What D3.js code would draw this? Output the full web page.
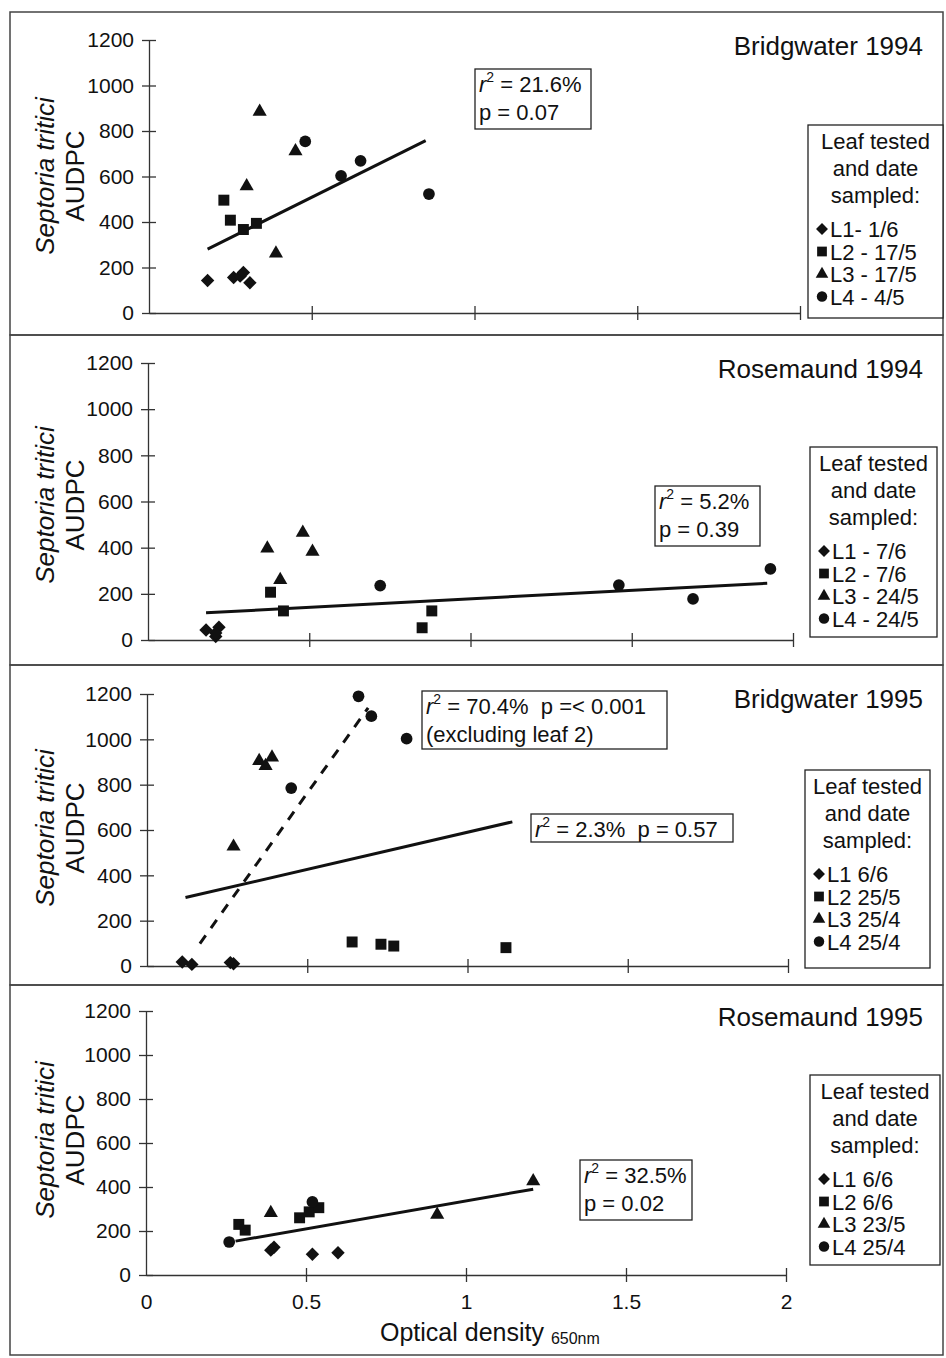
<!DOCTYPE html>
<html>
<head>
<meta charset="utf-8">
<script src="https://cdn.jsdelivr.net/npm/d3@7"></script>
<style>
  body { margin: 0; background: #fff; }
  text { font-family: "Liberation Sans", Arial, sans-serif; fill: #111; }
</style>
</head>
<body>
<script>
// tick values shared by all four panels
const yTicks = [0, 200, 400, 600, 800, 1000, 1200];
const xTicks = [0, 0.5, 1, 1.5, 2];
const xTickLabels = ["0", "0.5", "1", "1.5", "2"];

const siteNames = ["Bridgwater 1994", "Rosemaund 1994", "Bridgwater 1995", "Rosemaund 1995"];
const leafShapes = ["diamond", "square", "triangle", "circle"];

const legendB94 = ["L1- 1/6", "L2 - 17/5", "L3 - 17/5", "L4 - 4/5"];
const legendR94 = ["L1 - 7/6", "L2 - 7/6", "L3 - 24/5", "L4 - 24/5"];
const legendB95 = ["L1 6/6", "L2 25/5", "L3 25/4", "L4 25/4"];
const legendR95 = ["L1 6/6", "L2 6/6", "L3 23/5", "L4 25/4"];

// points: leaf number, optical density, AUDPC
const pointsB94 = [
  {leaf: 1, od: 0.18, audpc: 143}, {leaf: 1, od: 0.26, audpc: 156}, {leaf: 1, od: 0.28, audpc: 162},
  {leaf: 1, od: 0.29, audpc: 178}, {leaf: 1, od: 0.31, audpc: 133},
  {leaf: 2, od: 0.23, audpc: 496}, {leaf: 2, od: 0.25, audpc: 408}, {leaf: 2, od: 0.29, audpc: 367},
  {leaf: 2, od: 0.33, audpc: 394},
  {leaf: 3, od: 0.34, audpc: 885}, {leaf: 3, od: 0.30, audpc: 558}, {leaf: 3, od: 0.45, audpc: 711},
  {leaf: 3, od: 0.39, audpc: 262},
  {leaf: 4, od: 0.48, audpc: 754}, {leaf: 4, od: 0.59, audpc: 603}, {leaf: 4, od: 0.65, audpc: 669},
  {leaf: 4, od: 0.86, audpc: 523}
];
const pointsR94 = [
  {leaf: 1, od: 0.18, audpc: 43}, {leaf: 1, od: 0.21, audpc: 15}, {leaf: 1, od: 0.22, audpc: 55},
  {leaf: 1, od: 0.21, audpc: 30},
  {leaf: 2, od: 0.38, audpc: 207}, {leaf: 2, od: 0.42, audpc: 126}, {leaf: 2, od: 0.88, audpc: 126},
  {leaf: 2, od: 0.85, audpc: 53},
  {leaf: 3, od: 0.37, audpc: 397}, {leaf: 3, od: 0.48, audpc: 465}, {leaf: 3, od: 0.51, audpc: 383},
  {leaf: 3, od: 0.41, audpc: 260},
  {leaf: 4, od: 0.72, audpc: 236}, {leaf: 4, od: 1.46, audpc: 238}, {leaf: 4, od: 1.69, audpc: 178},
  {leaf: 4, od: 1.93, audpc: 308}
];
const pointsB95 = [
  {leaf: 1, od: 0.11, audpc: 18}, {leaf: 1, od: 0.14, audpc: 7}, {leaf: 1, od: 0.26, audpc: 15},
  {leaf: 1, od: 0.27, audpc: 10},
  {leaf: 2, od: 0.64, audpc: 106}, {leaf: 2, od: 0.73, audpc: 96}, {leaf: 2, od: 0.77, audpc: 88},
  {leaf: 2, od: 1.12, audpc: 81},
  {leaf: 3, od: 0.27, audpc: 527}, {leaf: 3, od: 0.35, audpc: 905}, {leaf: 3, od: 0.37, audpc: 883},
  {leaf: 3, od: 0.39, audpc: 920},
  {leaf: 4, od: 0.66, audpc: 1190}, {leaf: 4, od: 0.70, audpc: 1102}, {leaf: 4, od: 0.45, audpc: 785},
  {leaf: 4, od: 0.81, audpc: 1003}
];
const pointsR95 = [
  {leaf: 1, od: 0.39, audpc: 113}, {leaf: 1, od: 0.40, audpc: 126}, {leaf: 1, od: 0.52, audpc: 94},
  {leaf: 1, od: 0.60, audpc: 101},
  {leaf: 2, od: 0.29, audpc: 230}, {leaf: 2, od: 0.31, audpc: 204}, {leaf: 2, od: 0.48, audpc: 260},
  {leaf: 2, od: 0.51, audpc: 287}, {leaf: 2, od: 0.54, audpc: 306},
  {leaf: 3, od: 0.39, audpc: 282}, {leaf: 3, od: 0.91, audpc: 274}, {leaf: 3, od: 1.21, audpc: 427},
  {leaf: 4, od: 0.26, audpc: 150}, {leaf: 4, od: 0.52, audpc: 332}
];

// fitted regression lines (end points)
const fitB94 = [[0.18, 281], [0.85, 758]];
const fitR94 = [[0.18, 118], [1.92, 246]];
const fitB95 = [[0.12, 302], [1.14, 636]];
const fitB95excl = [[0.165, 99], [0.69, 1139]];
const fitR95 = [[0.28, 154], [1.21, 390]];

const width = 946, height = 1358;
const svg = d3.select("body").append("svg")
    .attr("width", width)
    .attr("height", height);

// layout of each panel
const panels = [
  {name: siteNames[0], top: 12, bottom: 335, x0: 149, x2: 800, y0: 313, y1: 40, pts: pointsB94,
   fits: [{d: fitB94, dash: null}], legend: legendB94,
   leg: [808, 125, 943, 318], titleY: 55, labelY: 176,
   boxes: [{r: [475, 69, 591, 129], lines: [["21.6%", ""], ["p = 0.07"]]}]},
  {name: siteNames[1], top: 335, bottom: 665, x0: 148, x2: 793, y0: 640, y1: 363, pts: pointsR94,
   fits: [{d: fitR94, dash: null}], legend: legendR94,
   leg: [810, 447, 937, 637], titleY: 378, labelY: 505,
   boxes: [{r: [655, 486, 760, 546], lines: [["5.2%", ""], ["p = 0.39"]]}]},
  {name: siteNames[2], top: 665, bottom: 985, x0: 147, x2: 788, y0: 966, y1: 694, pts: pointsB95,
   fits: [{d: fitB95, dash: null}, {d: fitB95excl, dash: "10,9"}], legend: legendB95,
   leg: [805, 770, 930, 968], titleY: 708, labelY: 828,
   boxes: [{r: [422, 691, 667, 749], lines: [["70.4%", "  p =< 0.001"], ["(excluding leaf 2)"]]},
           {r: [531, 814, 733, 842], lines: [["2.3%", "  p = 0.57"]]}]},
  {name: siteNames[3], top: 985, bottom: 1355, x0: 146, x2: 786, y0: 1275, y1: 1011, pts: pointsR95,
   fits: [{d: fitR95, dash: null}], legend: legendR95,
   leg: [810, 1075, 940, 1265], titleY: 1026, labelY: 1140,
   boxes: [{r: [580, 1160, 692, 1220], lines: [["32.5%", ""], ["p = 0.02"]]}]}
];

const shapePath = {
  diamond: s => d3.symbol().type(d3.symbolSquare).size(s * 0.75)(),
  square: s => d3.symbol().type(d3.symbolSquare).size(s)(),
  triangle: s => d3.symbol().type(d3.symbolTriangle).size(s * 0.72)(),
  circle: s => d3.symbol().type(d3.symbolCircle).size(s * 0.9)()
};
function marker(g, shape, cx, cy, s) {
  g.append("path")
    .attr("d", shapePath[shape](s))
    .attr("transform", `translate(${cx},${cy})` + (shape === "diamond" ? " rotate(45)" : ""))
    .attr("fill", "#111");
}

panels.forEach((p, pi) => {
  const g = svg.append("g");
  const isLast = pi === panels.length - 1;

  // frame
  g.append("rect")
    .attr("x", 10).attr("y", p.top)
    .attr("width", 933).attr("height", p.bottom - p.top)
    .attr("fill", "none").attr("stroke", "#444").attr("stroke-width", 1.5);

  const x = d3.scaleLinear().domain([0, 2]).range([p.x0, p.x2]);
  const y = d3.scaleLinear().domain([0, 1200]).range([p.y0, p.y1]);

  // y axis
  const ya = g.append("g")
    .attr("transform", `translate(${p.x0},0)`)
    .call(d3.axisLeft(y).tickValues(yTicks).tickFormat(d3.format("d"))
      .tickSize(7).tickPadding(8).tickSizeOuter(0));
  ya.selectAll(".tick line").attr("x1", 7);
  ya.selectAll("text").style("font-size", "21px");

  // x axis
  const xa = g.append("g")
    .attr("transform", `translate(0,${p.y0})`)
    .call(d3.axisBottom(x).tickValues(xTicks).tickSize(7).tickPadding(12).tickSizeOuter(0)
      .tickFormat((d, i) => isLast ? xTickLabels[i] : ""));
  xa.selectAll(".tick line").attr("y1", -7);
  xa.selectAll(".tick").filter(d => d === 0).select("line").remove();
  xa.selectAll("text").style("font-size", "21px");
  svg.selectAll(".domain, .tick line").attr("stroke", "#333").attr("stroke-width", 1.3);

  // fitted lines
  p.fits.forEach(f => {
    g.append("path")
      .attr("d", d3.line().x(d => x(d[0])).y(d => y(d[1]))(f.d))
      .attr("fill", "none").attr("stroke", "#111").attr("stroke-width", 3)
      .attr("stroke-dasharray", f.dash);
  });

  // points
  p.pts.forEach(d => marker(g, leafShapes[d.leaf - 1], x(d.od), y(d.audpc), 120));

  // site title
  g.append("text")
    .attr("x", 923).attr("y", p.titleY)
    .attr("text-anchor", "end")
    .style("font-size", "26px")
    .text(p.name);

  // y axis label
  const yl = g.append("text")
    .attr("transform", `translate(0,${p.labelY}) rotate(-90)`)
    .attr("text-anchor", "middle")
    .style("font-size", "26px");
  yl.append("tspan").attr("x", 0).attr("y", 54).style("font-style", "italic").text("Septoria tritici");
  yl.append("tspan").attr("x", 0).attr("y", 84).text("AUDPC");

  // stats boxes
  p.boxes.forEach(b => {
    const [bx0, by0, bx1, by1] = b.r;
    g.append("rect")
      .attr("x", bx0).attr("y", by0).attr("width", bx1 - bx0).attr("height", by1 - by0)
      .attr("fill", "#fff").attr("stroke", "#222").attr("stroke-width", 1.3);
    b.lines.forEach((ln, li) => {
      const t = g.append("text")
        .attr("x", bx0 + 4).attr("y", by0 + 23 + li * 28)
        .style("font-size", "22px")
        .attr("xml:space", "preserve");
      if (ln.length === 2) {
        t.append("tspan").style("font-style", "italic").text("r");
        t.append("tspan").attr("dy", -10).style("font-size", "14px").text("2");
        t.append("tspan").attr("dy", 10).text(" = " + ln[0] + ln[1]);
      } else {
        t.text(ln[0]);
      }
    });
  });

  // legend
  const [lx0, ly0, lx1, ly1] = p.leg;
  g.append("rect")
    .attr("x", lx0).attr("y", ly0).attr("width", lx1 - lx0).attr("height", ly1 - ly0)
    .attr("fill", "#fff").attr("stroke", "#222").attr("stroke-width", 1.3);
  ["Leaf tested", "and date", "sampled:"].forEach((h, hi) => {
    g.append("text")
      .attr("x", (lx0 + lx1) / 2).attr("y", ly0 + 24 + hi * 27)
      .attr("text-anchor", "middle")
      .style("font-size", "22px")
      .text(h);
  });
  p.legend.forEach((lab, li) => {
    const cy = ly0 + 104 + li * 22.5;
    marker(g, leafShapes[li], lx0 + 14, cy, 95);
    g.append("text")
      .attr("x", lx0 + 22).attr("y", cy + 8)
      .style("font-size", "22px")
      .text(lab);
  });
});

// x axis title (bottom panel only)
const xt = svg.append("text")
  .attr("x", 380).attr("y", 1341)
  .style("font-size", "25px");
xt.append("tspan").text("Optical density ");
xt.append("tspan").attr("dy", 3).style("font-size", "16px").text("650nm");
</script>
</body>
</html>
